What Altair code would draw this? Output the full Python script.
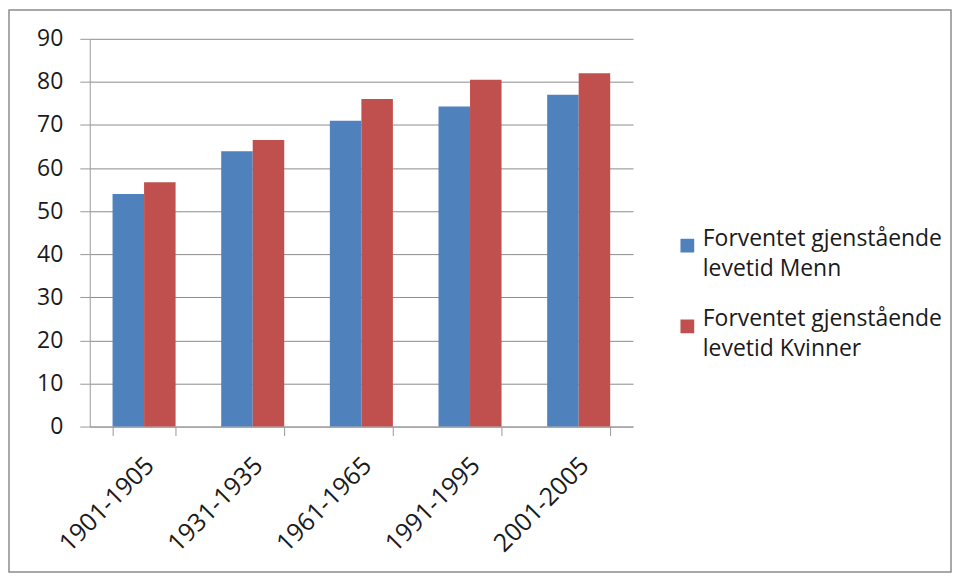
import altair as alt
import pandas as pd

periods = ["1901-1905", "1931-1935", "1961-1965", "1991-1995", "2001-2005"]
menn = [54.0, 63.9, 71.0, 74.3, 77.0]
kvinner = [56.7, 66.5, 76.0, 80.5, 82.0]
series = ["Forventet gjenstående levetid Menn", "Forventet gjenstående levetid Kvinner"]
colors = ["#4F81BD", "#C0504D"]

rows = []
for i, p in enumerate(periods):
    rows.append({"period": p, "series": series[0], "value": menn[i]})
    rows.append({"period": p, "series": series[1], "value": kvinner[i]})
df = pd.DataFrame(rows)

FONT = "Open Sans"

bars = alt.Chart(df).mark_bar().encode(
    x=alt.X("period:N", sort=periods, title=None,
            scale=alt.Scale(paddingInner=0.42, paddingOuter=0.21),
            axis=alt.Axis(labelAngle=-45, labelFontSize=25, labelColor="#1a1a1a",
                          labelFont=FONT, labelPadding=17, labelOffset=-3,
                          tickBand="extent", tickSize=9, tickColor="#999",
                          domainColor="#999", grid=False)),
    xOffset=alt.XOffset("series:N", sort=series),
    y=alt.Y("value:Q", title=None,
            scale=alt.Scale(domain=[0, 90]),
            axis=alt.Axis(values=list(range(0, 91, 10)), labelFontSize=23,
                          labelColor="#1a1a1a", labelFont=FONT, labelPadding=17,
                          tickSize=10, tickColor="#999", domainColor="#999",
                          gridColor="#8c8c8c", gridWidth=1)),
    color=alt.Color("series:N", sort=series,
                    scale=alt.Scale(domain=series, range=colors),
                    legend=alt.Legend(title=None, orient="none", legendX=588, legendY=196,
                                      symbolType="square", symbolSize=190,
                                      symbolStrokeWidth=0,
                                      labelFontSize=23, labelFont=FONT, labelColor="#1a1a1a",
                                      labelLimit=0, rowPadding=27, labelBaseline="alphabetic",
                                      labelOffset=4,
                                      labelExpr="split(replace(datum.label, 'gjenstående ', 'gjenstående|'), '|')")),
)

border = alt.Chart(pd.DataFrame({"a": [0]})).mark_rect(
    fill=None, stroke="#8c8c8c", strokeWidth=1.5
).encode(x=alt.value(-81), x2=alt.value(864), y=alt.value(-29), y2=alt.value(535))

chart = alt.layer(border, bars).properties(
    width=545, height=389, padding=0
).configure(
    background="white",
    style={"guide-label": {"lineHeight": 30}},
).configure_view(stroke=None)

chart.save("out.html", embed_options={"renderer": "svg", "actions": False})
